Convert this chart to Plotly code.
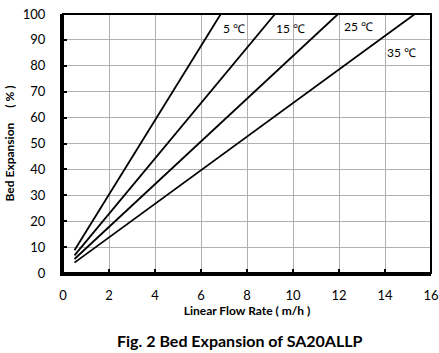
import plotly.graph_objects as go

temps = ["5 ℃", "15 ℃", "25 ℃", "35 ℃"]
x_start = [0.5, 0.5, 0.5, 0.5]
y_start = [8.8, 6.8, 5.4, 4.0]
x_end = [6.86, 9.22, 11.96, 15.3]
y_end = [100, 100, 100, 100]
label_x = [6.88, 9.18, 12.12, 14.02]
label_y = [94.5, 94.5, 95.2, 85]

FONT = "Lato, 'Open Sans', sans-serif"
fig = go.Figure()
for i, t in enumerate(temps):
    fig.add_trace(go.Scatter(x=[x_start[i], x_end[i]], y=[y_start[i], y_end[i]],
                             mode="lines", line=dict(color="black", width=1.8),
                             showlegend=False, cliponaxis=True))
    fig.add_annotation(x=label_x[i], y=label_y[i], text=t, showarrow=False,
                       xanchor="left", font=dict(size=12, color="black", family=FONT))

fig.update_layout(
    width=439, height=353,
    margin=dict(l=63, r=8, t=14, b=80),
    plot_bgcolor="white", paper_bgcolor="white",
    font=dict(family=FONT, color="black", size=13),
    xaxis=dict(range=[0, 16], dtick=2, showgrid=True, gridcolor="#b0b0b0", gridwidth=1,
               showline=True, linecolor="black", linewidth=3, mirror=False,
               ticks="inside", ticklen=4, tickwidth=2, tickcolor="black",
               ticklabelstandoff=8, zeroline=False, automargin=False,
               title=dict(text="<b>Linear Flow Rate ( m/h )</b>", font=dict(size=12), standoff=6)),
    yaxis=dict(range=[0, 100], dtick=10, showgrid=True, gridcolor="#b0b0b0", gridwidth=1,
               showline=True, linecolor="black", linewidth=3, mirror=False,
               ticks="inside", ticklen=4, tickwidth=2, tickcolor="black",
               ticklabelstandoff=12, zeroline=False, automargin=False,
               title=dict(text="<b>Bed Expansion　 ( % )</b>", font=dict(size=12), standoff=6)),
    shapes=[dict(type="rect", xref="paper", yref="paper", x0=0, y0=0, x1=1, y1=1,
                 line=dict(color="black", width=2), layer="above")],
)
fig.add_annotation(x=0.48, y=-0.262, xref="paper", yref="paper", yanchor="middle",
                   xanchor="center", text="<b>Fig. 2 Bed Expansion of SA20ALLP</b>",
                   showarrow=False, font=dict(size=16, family=FONT, color="black"))
fig.write_html("out.html")
